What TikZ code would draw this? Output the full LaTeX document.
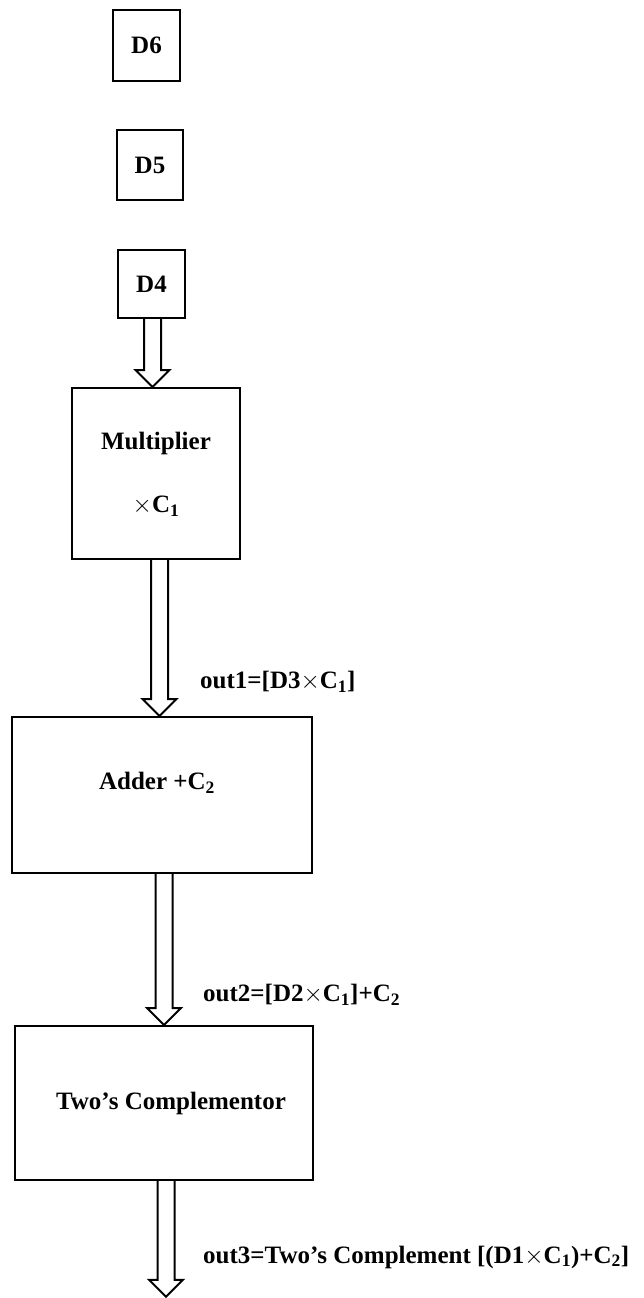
\documentclass[tikz,border=0pt]{standalone}
\usepackage{fontspec}
\setmainfont{Liberation Serif}
\usetikzlibrary{calc}
\tikzset{
  box/.style={draw, line width=2pt, rectangle, inner sep=0pt, align=center},
  conn/.style={draw, line width=2pt, line join=miter},
  lbl/.style={anchor=west, inner sep=0pt},
}
\newcommand\hollowarrow[3]{%
  \draw[conn] let \p1=(#1.south), \p2=(#2.north) in
    (#3-8.5,\y1) -- (#3-8.5,\y2+17pt) -- (#3-17,\y2+17pt) -- (#3,\y2)
    -- (#3+17,\y2+17pt) -- (#3+8.5,\y2+17pt) -- (#3+8.5,\y1);}
\newcommand\apos{\char"0027\relax}
\begin{document}
\begin{tikzpicture}[x=1pt,y=-1pt,font=\fontsize{25}{30}\selectfont\bfseries]
\useasboundingbox (0,0) rectangle (643,1298);
\node[box, minimum width=67pt, minimum height=71pt] (d6) at (146.5,45.5) {D6};
\node[box, minimum width=66pt, minimum height=70pt] (d5) at (150,165) {D5};
\node[box, minimum width=67pt, minimum height=68pt] (d4) at (151.5,284) {D4};
\node[box, minimum width=168pt, minimum height=171pt] (mul) at (156,473.5) {};
\node (multxt) at (156,443) {Multiplier};
\node (mulc) at (156,506) {$\times$C\textsubscript{1}};
\node[box, minimum width=300pt, minimum height=156pt] (add) at (162,795) {};
\node (addtxt) at (157,783) {Adder +C\textsubscript{2}};
\node[box, minimum width=298pt, minimum height=154pt] (two) at (164,1103) {};
\node (twotxt) at (171,1103) {Two\apos s Complementor};
\node[inner sep=0pt, minimum size=0pt] (end) at (167,1297) {};
\hollowarrow{d4}{mul}{152.5}
\hollowarrow{mul}{add}{159.5}
\hollowarrow{add}{two}{164}
\hollowarrow{two}{end}{166}
\node[lbl] (o1) at (200,682) {out1=[D3$\times$C\textsubscript{1}]};
\node[lbl] (o2) at (203,995) {out2=[D2$\times$C\textsubscript{1}]+C\textsubscript{2}};
\node[lbl] (o3) at (203,1257) {out3=Two\apos s Complement [(D1$\times$C\textsubscript{1})+C\textsubscript{2}]};
\end{tikzpicture}
\end{document}
